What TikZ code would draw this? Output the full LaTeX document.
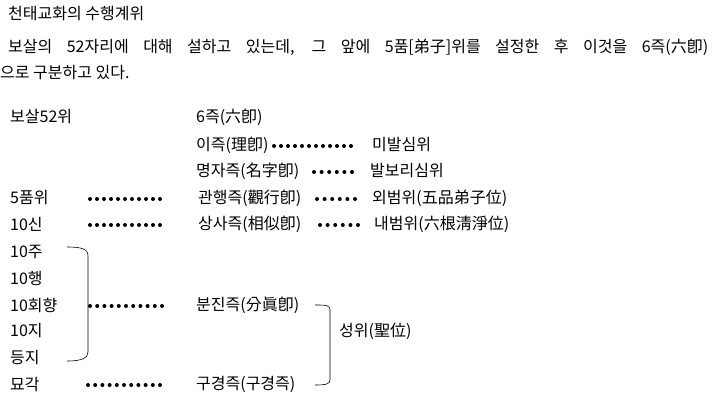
\documentclass[tikz,border=0pt]{standalone}
\usepackage{fontspec}
\setmainfont{Noto Sans CJK KR}
\begin{document}
\begin{tikzpicture}[x=1pt,y=-1pt,
  t/.style={anchor=west,inner sep=0pt,font=\fontsize{16}{19}\selectfont},
  dot/.style={fill=black,draw=none}]
\useasboundingbox (0,0) rectangle (719,418);
\node[t] (title) at (8,14) {천태교화의 수행계위};
\node[t] (l2) at (8,47) {\makebox[700pt][s]{보살의 52자리에 대해 설하고 있는데, 그 앞에 5품[弟子]위를 설정한 후 이것을 6즉(六卽)}};
\node[t] (l3) at (0,73) {으로 구분하고 있다.};
\node[t] (a1) at (10,117) {보살52위};
\node[t] (a2) at (10,198) {5품위};
\node[t] (a3) at (10,224) {10신};
\node[t] (a4) at (10,252) {10주};
\node[t] (a5) at (10,278) {10행};
\node[t] (a6) at (10,305) {10회향};
\node[t] (a7) at (10,331) {10지};
\node[t] (a8) at (10,357) {등지};
\node[t] (a9) at (10,384) {묘각};
\node[t] (b1) at (196,117) {6즉(六卽)};
\node[t] (b2) at (196,145) {이즉(理卽)};
\node[t] (b3) at (196,171) {명자즉(名字卽)};
\node[t] (b4) at (198,198) {관행즉(觀行卽)};
\node[t] (b5) at (198,224) {상사즉(相似卽)};
\node[t] (b6) at (196,305) {분진즉(分眞卽)};
\node[t] (b7) at (196,384) {구경즉(구경즉)};
\node[t] (c2) at (372,145) {미발심위};
\node[t] (c3) at (370,171) {발보리심위};
\node[t] (c4) at (372,198) {외범위(五品弟子位)};
\node[t] (c5) at (374,224) {내범위(六根淸淨位)};
\node[t] (s) at (339,331) {성위(聖位)};
\newcommand\dotrow[4]{\foreach \i in {0,...,#3}{\fill (#1+\i*#4,#2) circle (2pt);}}
\dotrow{274}{146}{11}{7}
\dotrow{314}{172}{5}{7.6}
\dotrow{90}{199}{10}{7}
\dotrow{317}{199}{5}{7.6}
\dotrow{90}{225}{10}{7}
\dotrow{320}{225}{5}{7.6}
\dotrow{90}{306}{10}{7.2}
\dotrow{88}{385}{10}{7.2}
\draw[semithick] (67,247) .. controls (82,247) and (88,249) .. (88,256) -- (88,352) .. controls (88,358) and (82,361) .. (67,361);
\draw[semithick] (315,305) .. controls (326,305) and (330,305) .. (330,310) -- (330,380) .. controls (330,384) and (326,385) .. (315,385);
\end{tikzpicture}
\end{document}
